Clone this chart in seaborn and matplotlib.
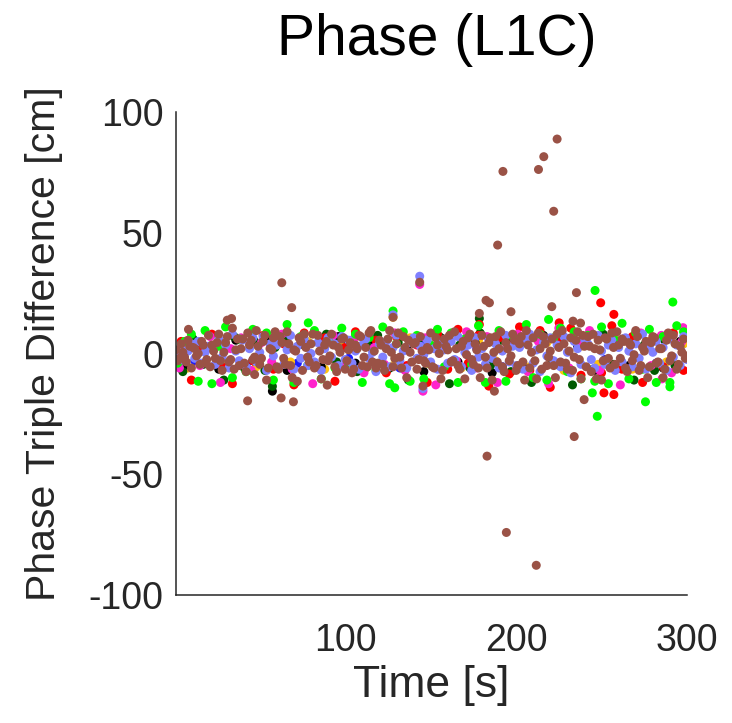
import numpy as np
import pandas as pd
import matplotlib
matplotlib.use("Agg")
import matplotlib.pyplot as plt
import seaborn as sns

# ---------------- data ----------------
series_names = ["blue", "yellow", "black", "darkgreen", "red", "magenta", "green", "lilac", "brown"]
series_colors = {"blue": "#1a1aff", "yellow": "#ffc20e", "black": "#000000", "darkgreen": "#005a00",
                 "red": "#ff0000", "magenta": "#ff22cc", "green": "#00ff00", "lilac": "#8080ff",
                 "brown": "#9a5246"}

# sampling epochs (s) of each series
brown_t = np.arange(1, 300, 2)
brown2_t = np.arange(2, 301, 2)
lilac_t = np.arange(2, 301, 2)
green_t = np.arange(2, 300, 4)
magenta_t = np.arange(3, 300, 6)
red_t = np.arange(4, 300, 6)
darkgreen_t = np.arange(5, 300, 6)
black_t = np.arange(6, 300, 10)
yellow_t = np.arange(8, 300, 10)
blue_t = np.arange(12, 300, 15)

brown_y = [1.5, -2.0, 0.5, -3.5, 3.0, 2.5, -1.0, -4.5, 3.5, -2.5,
           -5.5, 1.0, 4.5, -3.0, 0.5, 7.0, -2.5, -6.5, 6.0, 2.0,
           -4.0, 8.5, 5.5, -1.5, 3.0, -2.0, 7.5, -6.0, 1.5, 9.0,
           -6.5, 4.5, -4.5, 4.0, -10.0, 1.0, 6.5, -7.0, 2.5, -3.5,
           8.0, -5.0, 1.0, -2.5, 5.0, -1.0, 3.5, -7.5, 0.5, 6.5,
           -3.0, 4.5, -6.5, 2.0, 7.0, -1.5, -5.5, 9.5, 1.0, -4.0,
           3.5, -7.0, 6.0, 0.5, -2.0, 8.5, -6.0, 2.5, 5.5, -3.5,
           4.5, -2.5, 1.0, -4.0, 1.5, -5.5, 6.5, 0.0, -7.0, 3.0,
           7.5, -3.0, 2.0, -6.5, 5.0, -0.5, 8.0, -4.5, 1.5, -10.0,
           3.0, -6.0, 6.5, 0.5, -3.5, 9.0, -7.5, 2.0, -1.0, 5.5,
           -5.0, 7.0, -11.0, 3.5, 0.5, -3.0, 8.5, -6.5, 4.0, -1.5,
           6.0, -10.0, 2.5, 9.5, -4.0, 1.0, -7.0, 5.5, -2.5, 7.5,
           -5.5, 3.0, 8.0, -10.5, 1.5, -3.0, 6.0, -6.0, 2.5, 9.0,
           -2.0, 5.0, -7.5, 3.5, -0.5, 7.0, -5.0, 1.0, -10.0, 4.5,
           6.5, -3.5, 2.0, -6.5, 8.5, -1.0, 4.0, -4.5, 0.5, -2.0]

# second brown satellite, sampled between the first
brown2_y = [-3.0, 4.0, -1.5, 5.5, -6.0, 2.0, 0.0, 5.0, -4.0, 7.5,
            3.5, -2.0, 8.0, -7.0, 4.5, -3.5, 10.5, 1.5, -5.0, 6.0,
            -7.5, 3.5, -2.5, 9.5, -4.5, 5.0, -11.0, 2.0, 6.5, -5.5,
            7.0, -2.0, 9.0, -5.0, 1.5, -11.5, 5.0, 8.0, -1.5, 4.0,
            -6.0, 7.5, -10.5, 3.5, -3.0, 8.0, -5.5, 2.5, 6.0, -6.5,
            1.5, -8.0, 3.5, 7.5, -5.0, 2.5, 8.5, -3.5, -6.0, 5.5,
            -4.5, 2.0, 9.5, -5.5, 4.0, -1.5, 7.0, -10.0, 0.5, 4.0,
            -6.5, 7.0, -3.0, 2.5, 8.5, -6.0, 3.5, -10.5, 6.0, 1.5,
            -3.5, 9.0, -5.0, 3.0, -10.5, 6.5, -2.5, 4.0, -6.0, 7.5,
            -1.5, 4.5, -11.0, 7.0, 2.0, -5.5, 4.5, -3.0, 8.0, -7.0,
            4.0, -3.5, 9.5, -6.0, 6.5, -10.5, 2.0, 7.0, -5.0, 1.0,
            -5.0, 8.0, -3.5, 4.0, -6.5, 6.5, -1.5, 9.0, -10.5, 3.0,
            7.0, -7.5, 2.0, 5.5, -11.0, 6.5, -2.0, 8.5, -4.5, 3.5,
            6.0, -6.0, 4.5, -3.0, 9.5, -7.0, 2.5, 5.0, -5.5, 7.0,
            -4.0, 2.0, -10.0, 5.5, -3.0, 7.5, -6.5, 3.0, 6.0, -1.0]

lilac_y = [-1.0, 2.5, -3.0, 1.0, 4.0, -2.0, 5.0, -4.0, 0.5, 3.0,
           2.0, -4.5, 6.0, -1.5, 3.5, -6.0, 8.0, 1.0, -3.0, 5.5,
           -5.5, 2.0, 6.5, -3.5, 0.5, 7.0, -7.0, 4.0, -1.0, 3.5,
           5.0, -4.5, 1.5, 7.5, -6.5, 3.0, -2.0, 6.0, -5.0, 0.0,
           -3.5, 4.5, -7.0, 2.0, 6.5, -1.5, 4.0, -5.0, 7.0, -2.5,
           5.5, -4.0, 1.0, -6.5, 3.5, 6.0, -2.0, 0.5, -7.5, 4.0,
           -1.5, 5.0, -5.5, 2.5, 7.5, -3.0, 1.0, -6.0, 4.5, 6.5,
           -2.0, 3.0, -0.5, 5.5, -3.5, 2.0, -6.5, 4.5, 1.5, -4.0,
           5.0, -2.5, 7.0, -5.5, 0.5, 3.5, -7.0, 6.5, -1.5, 2.0,
           -4.5, 6.0, -2.0, 4.0, -6.0, 1.0, 7.5, -3.5, 3.0, -5.0,
           2.5, -6.5, 5.5, 8.0, -4.0, 1.5, -7.5, 4.5, -1.0, 6.5,
           -3.0, 3.5, -5.5, 7.0, 0.5, -8.0, 5.0, 2.0, -4.5, 6.0,
           4.0, -2.5, -6.0, 7.5, 1.0, -4.5, 3.5, 5.5, -7.0, 2.5,
           -3.5, 6.5, 1.0, -5.5, 4.0, -2.0, 8.0, -6.5, 3.0, 0.5,
           5.0, -4.0, 2.5, -7.0, 6.0, -1.5, 3.5, -5.0, 7.0, -2.5]

green_y = [-4.0, 5.0, 8.0, -11.5, 9.5, -12.5, 3.0, 11.0, -10.0, 6.0,
           -7.5, 10.0, -3.0, 8.5, -11.0, 4.5, 12.0, -12.0, 7.0, -5.0,
           9.5, -10.5, 5.5, -6.0, 10.5, -4.0, 8.0, -12.0, 6.5, -7.0,
           11.0, -12.5, 4.0, 9.0, -11.5, 7.5, -10.5, 3.5, 10.0, -5.5,
           8.5, -12.0, 6.0, -4.5, 11.5, -12.0, 5.0, 9.5, -11.5, 7.0,
           -6.0, 12.0, -10.0, 8.0, -11.0, 6.5, 10.5, -7.5, 9.0, -10.5,
           7.5, -11.5, 11.0, -12.5, 5.5, 12.5, -10.5, 8.5, -6.5, 10.0,
           -12.0, 7.0, -12.0, 11.5, 9.0]

magenta_y = [-6.0, 3.5, -5.0, 7.0, -12.0, 2.0, 6.5, -7.0, 4.5, -3.5,
             8.0, -6.5, 5.0, -12.5, 3.0, 7.5, -5.5, 6.0, -8.0, 2.5,
             -4.5, 8.5, -7.0, 4.0, 6.5, -13.0, 5.5, -3.0, 9.0, -6.0,
             7.0, -12.0, 3.5, 8.0, -7.5, 5.0, -12.5, 10.5, -6.0, 4.0,
             9.5, -7.0, 6.0, -13.0, 3.5, 8.5, -5.0, 7.5, -8.0, 5.0]

red_y = [5.0, -11.0, 3.0, 8.0, -5.5, -12.5, 6.0, -3.0, 7.5, -6.5,
         4.0, -13.0, 8.5, -4.5, 6.5, -11.5, 2.5, 9.0, -6.0, 5.5,
         -8.0, 7.0, -5.0, 3.5, -12.0, 8.0, -6.5, 10.0, -4.0, 7.5,
         -13.5, 6.5, -8.5, 11.0, -7.0, 9.5, -14.0, 5.0, 10.5, -9.0,
         8.0, -8.0, 11.5, -6.5, 7.0, -12.0, 6.0, -5.5, 8.5, -7.0]

darkgreen_y = [-7.5, 6.0, -4.5, 3.0, -11.0, 7.0, -6.0, 5.0, -7.0, 2.5,
               6.5, -12.0, 4.0, -5.5, 8.0, -3.5, 5.5, -7.5, 3.0, 7.5,
               -6.5, 4.5, -11.0, 6.0, -4.0, 7.0, -12.5, 3.5, -6.0, 8.5,
               -5.0, 5.5, -7.5, 4.0, -12.0, 6.5, -3.0, 7.5, -13.0, 5.0,
               -6.5, 8.0, -4.5, 6.0, -11.0, 3.5, -7.0, 5.5, -5.0, 7.0]

black_y = [-5.0, 4.0, -6.5, 5.5, -3.0, 6.0, -7.0, 3.5, -5.5, 7.0,
           -4.0, 5.0, -6.0, 2.5, -7.5, 6.5, -3.5, 4.5, -8.0, 5.5,
           -6.5, 7.5, -4.5, 3.0, -7.0, 6.0, -5.0, 4.0, -6.0, 5.0]

yellow_y = [-6.0, 3.0, -4.5, 6.0, -5.5, 2.5, -3.5, 5.0, -6.5, 4.0,
            -7.0, 3.5, -5.0, 6.5, -4.0, 2.0, -6.0, 5.5, -3.0, 7.0,
            -5.5, 4.5, -7.0, 3.0, -4.5, 6.0, -6.5, 5.0, -3.5, 4.0]

blue_y = [-3.0, 4.0, -5.0, 2.5, -4.0, 5.5, -2.0, 3.5, -6.0, 4.5,
          -3.5, 2.0, -5.5, 6.0, -4.5, 3.0, -2.5, 5.0, -4.0, 3.5]

# isolated points outside the main band
out_t = [8.3, 31, 33.5, 42.9, 47, 62.5, 62.9, 68.7, 69.7, 89.5, 143.6, 145.5, 128, 182.4, 184.4,
         178.5, 187.3, 189.2, 192.3, 183, 194.3, 197, 211.8, 213.1, 216.2, 222, 224, 220.9,
         233.3, 237.7, 234, 235.3, 239.8,
         143.6, 128, 145.5,
         143.6, 145.5, 297.7, 285.4,
         128, 129, 78.4, 219, 246.2, 244.6, 247.5, 275.7, 291.7, 290,
         249.5, 257.2, 225.2, 251.4, 257.2, 178.5,
         178.5, 57.4,
         57.4,
         128]
out_y = [10.0, 13.8, 14.5, -19.6, -8.7, -18.4, 29.3, 19.0, -20.0, -13.1, 29.5, -13.5, 15.0, 22.0, 21.0,
         16.6, -15.6, 44.9, 75.4, -42.5, -74.1, 17.3, -87.7, 76.2, 81.5, 58.9, 88.8, 19.4,
         13.4, 12.6, -34.4, 25.2, -19.1,
         32.0, 16.0, -14.5,
         28.6, -15.6, 10.7, -10.5,
         17.6, -14.2, 12.7, 14.1, 26.1, -16.3, -26.0, -20.0, 21.3, -13.8,
         21.0, 16.2, 12.7, -16.3, -17.0, 12.0,
         14.5, -13.6,
         -15.6,
         15.0]
out_series = (["brown"] * 33 + ["lilac"] * 3 + ["magenta"] * 4 + ["green"] * 10 +
              ["red"] * 6 + ["darkgreen"] * 2 + ["black"] * 1 + ["yellow"] * 1)

grid = {"brown": [(brown_t, brown_y), (brown2_t, brown2_y)], "lilac": [(lilac_t, lilac_y)],
        "green": [(green_t, green_y)], "magenta": [(magenta_t, magenta_y)], "red": [(red_t, red_y)],
        "darkgreen": [(darkgreen_t, darkgreen_y)], "black": [(black_t, black_y)],
        "yellow": [(yellow_t, yellow_y)], "blue": [(blue_t, blue_y)]}

frames = []
out_df = pd.DataFrame({"t": out_t, "y": out_y, "series": out_series})
for name in series_names:
    for t, y in grid[name]:
        frames.append(pd.DataFrame({"t": t, "y": y, "series": name}))
    frames.append(out_df[out_df["series"] == name])
df = pd.concat(frames, ignore_index=True)

# ---------------- plot ----------------
sns.set_style("white")
plt.rcParams["font.family"] = ["Liberation Sans", "DejaVu Sans"]
plt.rcParams["axes.unicode_minus"] = False

fig = plt.figure(figsize=(7.32, 7.23), dpi=100)
ax = fig.add_axes([176 / 732, (723 - 595) / 723, (687 - 176) / 732, (595 - 112) / 723])

sns.scatterplot(data=df, x="t", y="y", hue="series", palette=series_colors,
                s=42, linewidth=0, legend=False, ax=ax)

ax.set_xlim(1, 300)
ax.set_ylim(-100, 100)
ax.set_xticks([100, 200, 300])
ax.set_yticks([-100, -50, 0, 50, 100])

tc = "#262626"
for side in ["top", "right"]:
    ax.spines[side].set_visible(False)
for side in ["left", "bottom"]:
    ax.spines[side].set_color(tc)
    ax.spines[side].set_linewidth(1.1)
ax.tick_params(direction="in", length=4, width=1.0, colors=tc, labelsize=27)
ax.tick_params(axis="y", pad=9)
ax.tick_params(axis="x", pad=20)

ax.set_xlabel("Time [s]", fontsize=32, color=tc)
ax.xaxis.set_label_coords(0.5, -0.145)
ax.set_ylabel("Phase Triple Difference [cm]", fontsize=29.5, color=tc)
ax.yaxis.set_label_coords(-0.221, 0.52)
ax.set_title("Phase (L1C)", fontsize=41, color="#000000", x=0.51, y=1.118, pad=0)

fig.savefig("out.png", dpi=100)
